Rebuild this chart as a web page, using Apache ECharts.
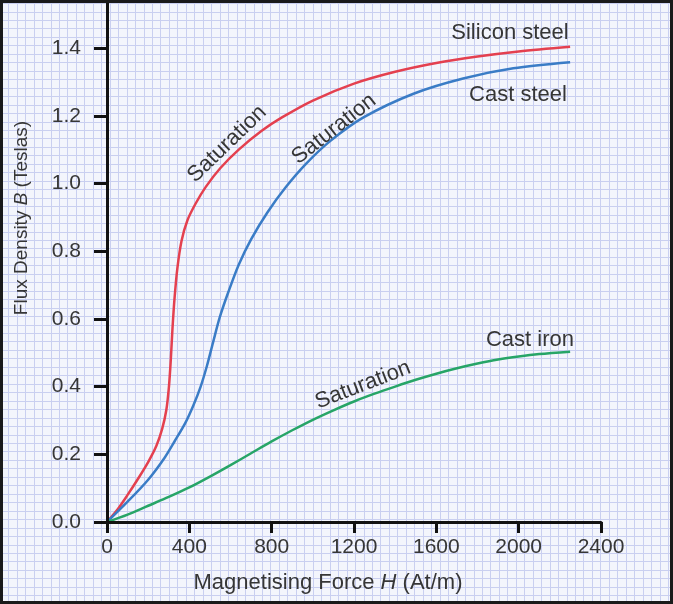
<!DOCTYPE html>
<html>
<head>
<meta charset="utf-8">
<title>B-H curves</title>
<script src="https://cdn.jsdelivr.net/npm/echarts@6/dist/echarts.min.js"></script>
<style>
    html, body { margin: 0; padding: 0; background: #f3f5fc; }
    #chart { width: 673px; height: 604px; }
</style>
</head>
<body>
<div id="chart"></div>
<script>
'use strict';

// magnetising force H (At/m) and flux density B (T)
var siliconH = [0, 50, 100, 150, 200, 240, 268, 288, 301, 310, 318, 328, 342, 362, 390, 430, 480, 550, 640, 750, 850, 1000, 1200, 1400, 1600, 1800, 2000, 2250];
var siliconB = [0, 0.036, 0.08, 0.127, 0.177, 0.225, 0.275, 0.33, 0.40, 0.48, 0.57, 0.66, 0.75, 0.83, 0.89, 0.94, 0.99, 1.045, 1.10, 1.155, 1.195, 1.245, 1.295, 1.33, 1.356, 1.375, 1.39, 1.404];

var castSteelH = [0, 100, 200, 280, 330, 380, 420, 455, 485, 515, 548, 590, 640, 700, 780, 870, 970, 1084, 1246, 1489, 1730, 1974, 2250];
var castSteelB = [0, 0.06, 0.125, 0.19, 0.24, 0.292, 0.345, 0.40, 0.46, 0.53, 0.605, 0.68, 0.76, 0.835, 0.915, 0.99, 1.06, 1.125, 1.195, 1.265, 1.31, 1.34, 1.358];

var castIronH = [0, 100, 200, 300, 400, 500, 600, 700, 800, 900, 1000, 1100, 1200, 1300, 1400, 1500, 1600, 1700, 1800, 1900, 2000, 2100, 2250];
var castIronB = [0, 0.022, 0.048, 0.074, 0.102, 0.134, 0.168, 0.203, 0.238, 0.271, 0.302, 0.33, 0.356, 0.379, 0.40, 0.42, 0.438, 0.454, 0.468, 0.48, 0.489, 0.496, 0.503];

var yTicks = [0, 0.2, 0.4, 0.6, 0.8, 1.0, 1.2, 1.4];

var textColor = '#363636';
var font = 'Liberation Sans';

function pairs(xs, ys) {
    var out = [];
    for (var i = 0; i < xs.length; i++) {
        out.push([xs[i], ys[i]]);
    }
    return out;
}

function curve(name, xs, ys, color) {
    return {
        name: name,
        type: 'line',
        xAxisIndex: 0,
        yAxisIndex: 0,
        data: pairs(xs, ys),
        smooth: 0.3,
        showSymbol: false,
        lineStyle: { color: color, width: 2.5 },
        z: 5
    };
}

function note(text, x, y, deg) {
    return {
        type: 'text',
        x: x,
        y: y,
        rotation: (deg || 0) * Math.PI / 180,
        style: {
            text: text,
            fill: textColor,
            font: '22px ' + font,
            align: 'center',
            verticalAlign: 'middle'
        },
        z: 20
    };
}

var chart = echarts.init(document.getElementById('chart'));

var option = {
    animation: false,
    backgroundColor: '#f3f5fc',
    grid: [
        // plot area
        { left: 107, right: 72, top: 2, bottom: 82 },
        // graph paper behind everything
        { left: 0, right: 0, top: 0, bottom: 0 }
    ],
    xAxis: [{
        type: 'value',
        gridIndex: 0,
        min: 0,
        max: 2400,
        interval: 400,
        axisLine: { lineStyle: { color: '#111', width: 3 } },
        axisTick: { length: 11, lineStyle: { color: '#111', width: 3 } },
        axisLabel: {
            color: textColor, fontSize: 21, fontFamily: font, margin: 15,
            formatter: function(v) { return String(v); }
        },
        splitLine: { show: false },
        z: 10
    }, {
        type: 'value',
        gridIndex: 1,
        min: 2.98,
        max: 675.98,
        interval: 8.46,
        axisLine: { show: false },
        axisTick: { show: false },
        axisLabel: { show: false },
        splitLine: { show: true, lineStyle: { color: '#c9cff0', width: 1 } },
        z: 0
    }],
    yAxis: [{
        type: 'value',
        gridIndex: 0,
        min: 0,
        max: 1.536,
        axisLine: { show: true, lineStyle: { color: '#111', width: 3 } },
        axisTick: { show: true, length: 13, customValues: yTicks, lineStyle: { color: '#111', width: 3 } },
        axisLabel: {
            color: textColor, fontSize: 21, fontFamily: font, margin: 26,
            customValues: yTicks,
            formatter: function(v) { return v.toFixed(1); }
        },
        splitLine: { show: false },
        z: 10
    }, {
        type: 'value',
        gridIndex: 1,
        min: 2.6,
        max: 606.6,
        interval: 8.46,
        axisLine: { show: false },
        axisTick: { show: false },
        axisLabel: { show: false },
        splitLine: { show: true, lineStyle: { color: '#c9cff0', width: 1 } },
        z: 0
    }],
    series: [
        curve('Silicon steel', siliconH, siliconB, '#e4404f'),
        curve('Cast steel', castSteelH, castSteelB, '#3a7cc6'),
        curve('Cast iron', castIronH, castIronB, '#27a567')
    ],
    graphic: [
        note('Silicon steel', 510, 33),
        note('Cast steel', 518, 95),
        note('Cast iron', 530, 340),
        note('Saturation', 227, 144, 44),
        note('Saturation', 334, 129, 38),
        note('Saturation', 363, 385, 21),
        {
            type: 'text',
            x: 328,
            y: 583,
            style: {
                text: 'Magnetising Force {i|H} (At/m)',
                fill: textColor,
                font: '22px ' + font,
                align: 'center',
                verticalAlign: 'middle',
                rich: { i: { fontStyle: 'italic', fontSize: 22, fontFamily: font, fill: textColor } }
            },
            z: 20
        },
        {
            type: 'text',
            x: 22,
            y: 218,
            rotation: Math.PI / 2,
            style: {
                text: 'Flux Density {i|B} (Teslas)',
                fill: textColor,
                font: '19px ' + font,
                align: 'center',
                verticalAlign: 'middle',
                rich: { i: { fontStyle: 'italic', fontSize: 19, fontFamily: font, fill: textColor } }
            },
            z: 20
        },
        // dark frame round the picture
        {
            type: 'rect',
            shape: { x: 1.5, y: 1.5, width: 670, height: 601 },
            style: { fill: null, stroke: '#1a1a1a', lineWidth: 3 },
            z: 30
        }
    ]
};

chart.setOption(option);
</script>
</body>
</html>
